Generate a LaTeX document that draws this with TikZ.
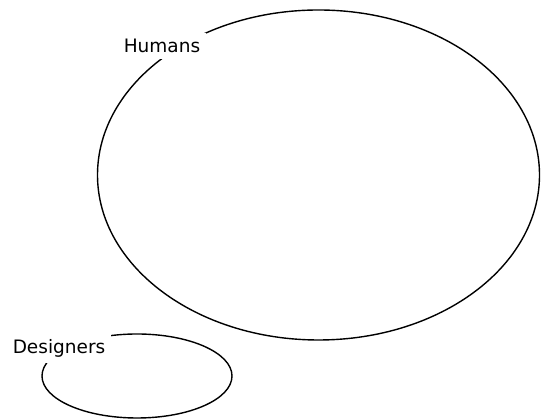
\documentclass[tikz,border=0pt]{standalone}
\usepackage{fontspec}
\setmainfont{DejaVu Sans}
\usetikzlibrary{shapes.geometric}
\begin{document}
\begin{tikzpicture}[x=1pt,y=1pt,
  setshape/.style={draw=black, line width=1.4pt, ellipse, inner sep=0pt, outer sep=0pt},
  setlabel/.style={fill=white, inner xsep=6pt, inner ysep=6pt, font=\fontsize{18.5}{20}\selectfont}]
\useasboundingbox (0,0) rectangle (541,419);
\fill[white] (0,0) rectangle (541,419);
\node[setshape, minimum width=442pt, minimum height=330pt] (humans) at (318.5,244) {};
\node[setshape, minimum width=190pt, minimum height=84pt] (designers) at (137,43) {};
\node[setlabel] (hlabel) at (162,373) {Humans};
\node[setlabel] (dlabel) at (59,71) {Designers};
\end{tikzpicture}
\end{document}
